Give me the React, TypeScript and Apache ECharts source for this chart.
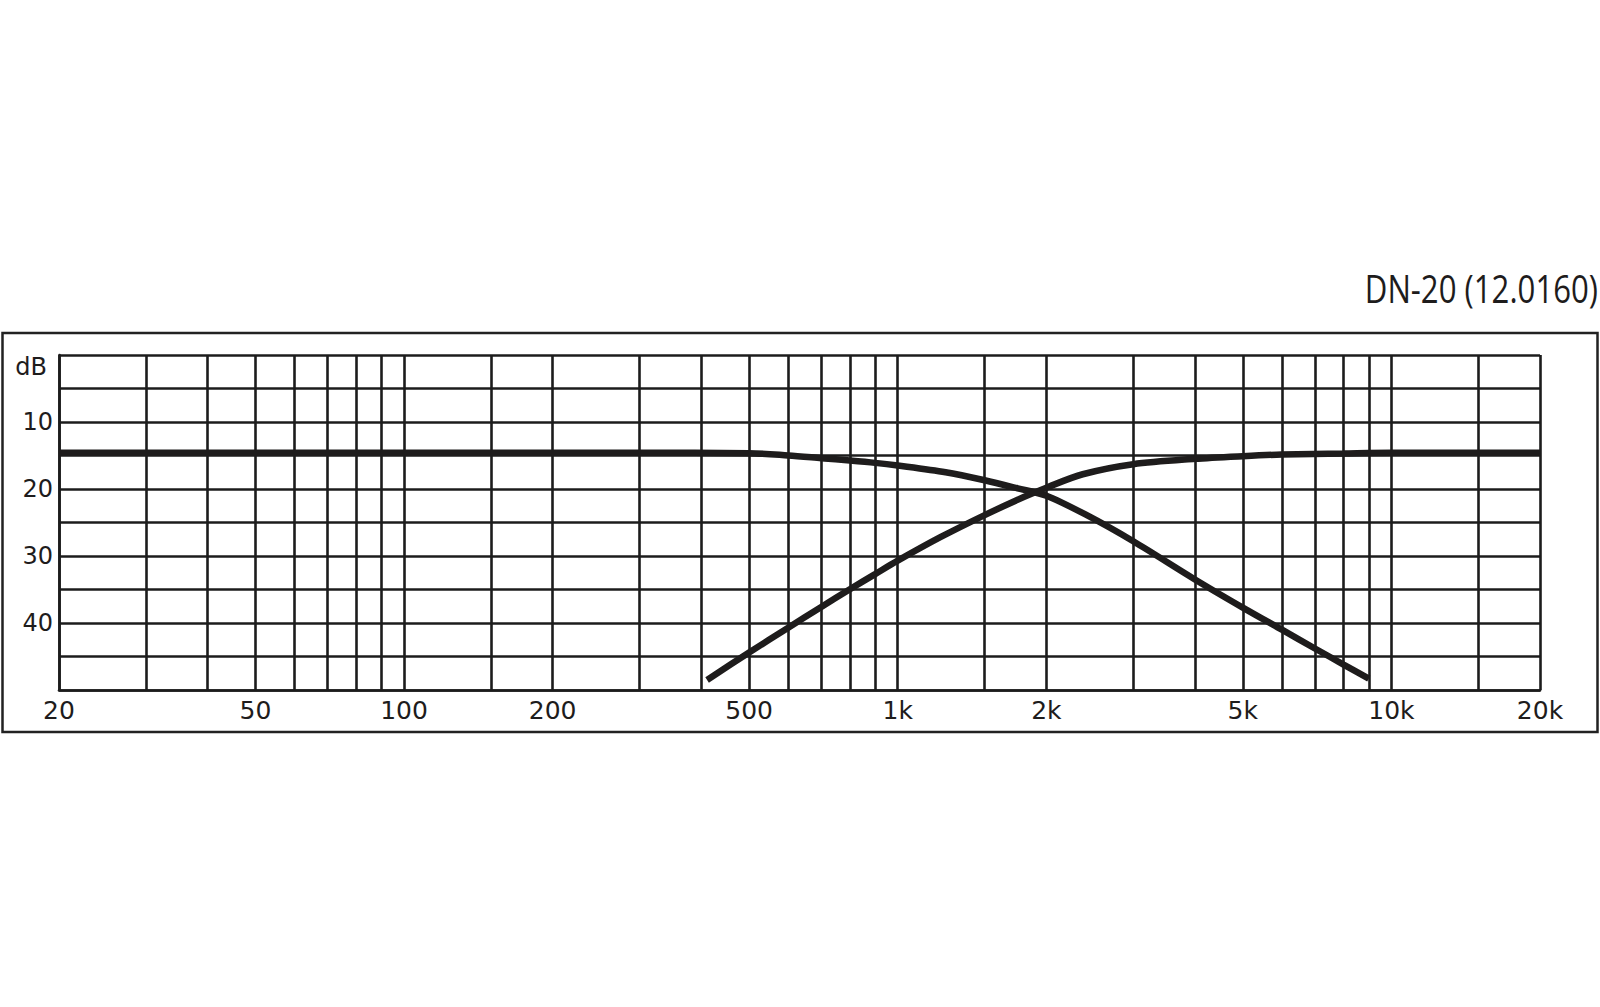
import { useEffect, useRef } from 'react'
import * as echarts from 'echarts'

// frequency axis: grid lines and labelled frequencies (Hz)
const FREQ_GRID = [20, 30, 40, 50, 60, 70, 80, 90, 100, 150, 200, 300, 400, 500, 600, 700, 800, 900,
  1000, 1500, 2000, 3000, 4000, 5000, 6000, 7000, 8000, 9000, 10000, 15000, 20000]
const FREQ_LABELS = [20, 50, 100, 200, 500, 1000, 2000, 5000, 10000, 20000]
const DB_LABELS = [10, 20, 30, 40]

// low-pass branch
const LOW_FREQ = [20, 100, 300, 500, 600, 700, 800, 900, 1000, 1250, 1500, 1750, 2000, 2400, 3000, 4000, 5000, 6000, 7000, 8000, 9000]
const LOW_DB = [14.6, 14.6, 14.6, 14.65, 15.0, 15.4, 15.75, 16.1, 16.5, 17.5, 18.7, 19.9, 21.0, 23.8, 27.8, 33.5, 37.7, 41.0, 43.8, 46.2, 48.3]

// high-pass branch
const HIGH_FREQ = [411, 500, 600, 700, 800, 900, 1000, 1220, 1500, 1800, 2000, 2370, 3000, 4000, 5000, 6000, 8000, 10000, 20000]
const HIGH_DB = [48.5, 44.4, 40.7, 37.6, 34.95, 32.7, 30.7, 27.2, 23.9, 21.2, 19.8, 17.8, 16.3, 15.5, 15.1, 14.85, 14.7, 14.6, 14.6]

const TITLE = 'DN-20 (12.0160)'
const INK = '#1e1c1c'
const GRID_LINE = { color: '#1c1c1c', width: 2.6 }

export default function App() {
  const ref = useRef<HTMLDivElement>(null)

  useEffect(() => {
    document.body.style.margin = '0'
    if (!ref.current) return
    const chart = echarts.init(ref.current, null, { renderer: 'svg' })
    const fmtFreq = (v: number) => { const f = Math.round(v); return f >= 1000 ? f / 1000 + 'k' : String(f) }
    const curve = (fs: number[], ds: number[]) => ({
      type: 'line' as const, data: fs.map((f, i) => [f, ds[i]]), symbol: 'none', smooth: 0.3, z: 5,
      lineStyle: { color: INK, width: 6.5, cap: 'butt' as const },
    })

    chart.setOption({
      animation: false,
      grid: { left: 59, right: 60, top: 355, bottom: 317 },
      xAxis: {
        type: 'log', logBase: 10, min: 20, max: 20000,
        axisLine: { show: true, onZero: false, lineStyle: GRID_LINE },
        axisTick: { show: false, customValues: FREQ_GRID },
        minorTick: { show: false }, minorSplitLine: { show: false },
        splitLine: { show: true, lineStyle: GRID_LINE },
        axisLabel: { customValues: FREQ_LABELS, formatter: fmtFreq, fontFamily: 'DejaVu Sans', fontSize: 25, color: INK, margin: 8 },
      },
      yAxis: {
        type: 'value', inverse: true, min: 0, max: 50, interval: 5,
        axisLine: { show: true, onZero: false, lineStyle: GRID_LINE },
        axisTick: { show: false },
        splitLine: { show: true, lineStyle: GRID_LINE },
        axisLabel: {
          formatter: (v: number) => DB_LABELS.includes(v) ? String(v) : '',
          fontFamily: 'DejaVu Sans', fontSize: 24, color: INK, margin: 6,
        },
      },
      series: [curve(LOW_FREQ, LOW_DB), curve(HIGH_FREQ, HIGH_DB)],
      graphic: [
        { type: 'rect', shape: { x: 2.5, y: 333, width: 1595, height: 399 }, style: { fill: 'none', stroke: '#222', lineWidth: 2.5 }, z: 1 },
        { type: 'text', x: 47, y: 367, style: { text: 'dB', fill: INK, font: '24px "DejaVu Sans"', textAlign: 'right', textVerticalAlign: 'middle' } },
        { type: 'text', x: 1598, y: 307, scaleX: 0.82, style: { text: TITLE, fill: INK, font: '38px "Open Sans"', textAlign: 'right', textVerticalAlign: 'bottom' } },
      ],
    })
    return () => chart.dispose()
  }, [])

  return <div ref={ref} style={{ width: 1600, height: 1007 }} />
}
